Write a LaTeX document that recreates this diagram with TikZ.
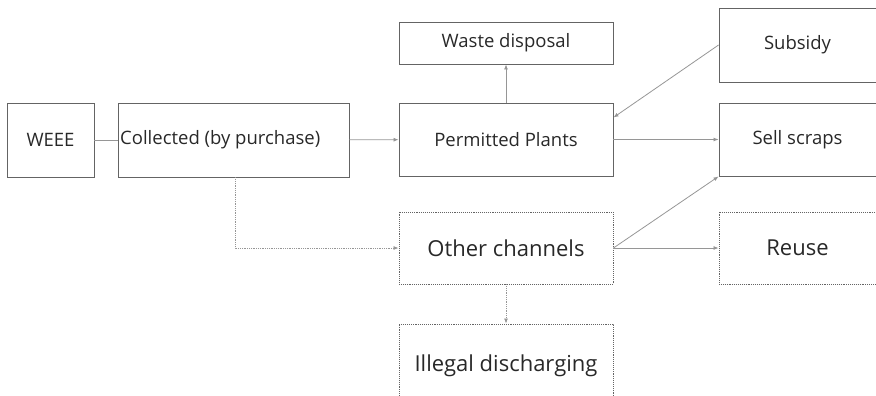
\documentclass[tikz,border=0pt]{standalone}
\usepackage{fontspec}
\setmainfont{Open Sans}
\usetikzlibrary{arrows.meta,calc}
\definecolor{boxc}{RGB}{100,100,100}
\definecolor{linec}{RGB}{150,150,150}
\definecolor{txtc}{RGB}{40,40,40}
\tikzset{
  box/.style={draw=boxc, line width=0.9pt, rectangle, inner sep=0pt, text=txtc, font=\fontsize{18.5}{21}\selectfont},
  dbox/.style={box, densely dotted, font=\fontsize{22}{25}\selectfont},
  conn/.style={draw=linec, line width=0.8pt},
  arr/.style={conn, -{Latex[length=5pt,width=4pt]}},
  darr/.style={arr, densely dotted}
}
\begin{document}
\begin{tikzpicture}[x=1pt,y=-1pt]
\useasboundingbox (0,0) rectangle (876,396);
\clip (0,0) rectangle (876,396);
\node[box, minimum width=87pt, minimum height=74pt] (weee) at (50.5,140) {WEEE};
\node[box, minimum width=231pt, minimum height=74pt] (coll) at (233.5,140) {};
\node[anchor=west, text=txtc, font=\fontsize{18.5}{21}\selectfont, inner sep=0pt] (colltxt) at (120,140) {Collected (by purchase)};
\node[box, minimum width=214pt, minimum height=73pt] (perm) at (506,139.5) {Permitted Plants};
\node[box, minimum width=214pt, minimum height=42pt] (waste) at (506,43) {Waste disposal};
\node[box, minimum width=157pt, minimum height=74pt] (sub) at (797.5,45) {Subsidy};
\node[box, minimum width=157pt, minimum height=73pt] (sell) at (797.5,139.5) {Sell scraps};
\node[dbox, minimum width=214pt, minimum height=72pt] (other) at (506,248) {Other channels};
\node[dbox, minimum width=157pt, minimum height=72pt] (reuse) at (797.5,248) {Reuse};
\node[dbox, minimum width=214pt, minimum height=90pt] (illegal) at (506,369) {};
\node[text=txtc, font=\fontsize{22}{25}\selectfont, inner sep=0pt] (illtxt) at (506,366) {Illegal discharging};
\draw[conn] (weee) -- (coll);
\draw[arr] (coll) -- (perm);
\draw[arr] (perm) -- (waste);
\draw[arr] (sub.west) -- ([yshift=22pt]perm.east);
\draw[arr] (perm) -- (sell);
\draw[darr] ([xshift=1.5pt]coll.south) |- (other.west);
\draw[arr] (other.east) -- (sell.south west);
\draw[arr] (other) -- (reuse);
\draw[darr] (other) -- (illegal);
\end{tikzpicture}
\end{document}
